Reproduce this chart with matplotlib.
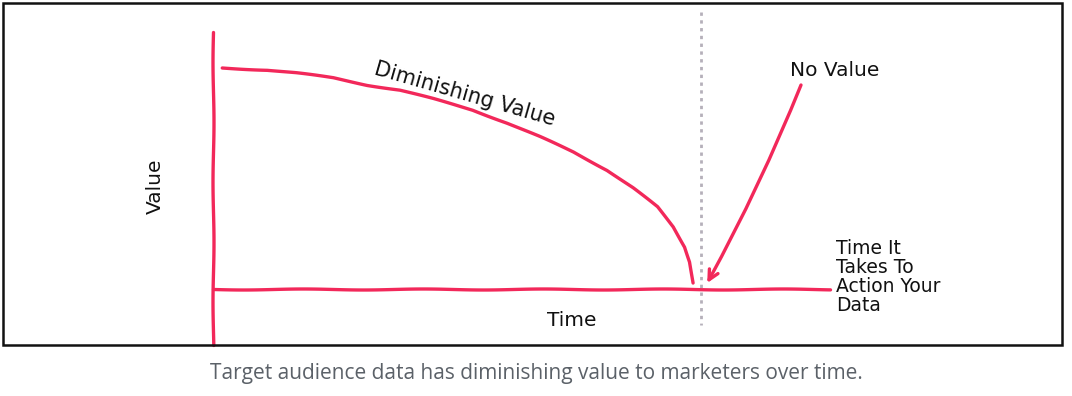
import matplotlib
matplotlib.use("Agg")
import matplotlib.pyplot as plt
from matplotlib.patches import Rectangle

# ---- data (time units, value units) ----
curve_time = [0.15, 0.88, 1.36, 1.95, 2.50, 3.03, 3.57, 4.21, 4.77, 5.30,
              5.84, 6.39, 6.81, 7.20, 7.46, 7.65, 7.73, 7.78]
curve_value = [10.00, 9.91, 9.77, 9.55, 9.23, 9.00, 8.60, 8.10, 7.51, 6.88,
               6.20, 5.38, 4.57, 3.71, 2.81, 1.90, 1.22, 0.27]
action_time = 7.91           # dotted line: time it takes to action your data
arrow_start = (9.53, 9.23)
arrow_end = (8.01, 0.27)

labels = {
    "curve": "Diminishing Value",
    "arrow": "No Value",
    "x": "Time",
    "y": "Value",
    "action": "Time It\nTakes To\nAction Your\nData",
}
caption = "Target audience data has diminishing value to marketers over time."

RED = "#f2285a"
W, H = 1072, 396
fig = plt.figure(figsize=(W / 100, H / 100), dpi=100)
fig.patch.set_facecolor("white")

# axes covering full figure; origin of chart at pixel (213, 289)
px_t = 61.7
px_v = 22.1
ax = fig.add_axes([0, 0, 1, 1])
ax.set_xlim(-213 / px_t, (W - 213) / px_t)
ax.set_ylim(-(H - 289) / px_v, 289 / px_v)
ax.axis("off")

sketch = (0.5, 120, 1)

# outer frame
fig.patches.append(Rectangle((3 / W, (H - 345) / H), (1062 - 3) / W, (345 - 3) / H,
                             transform=fig.transFigure, fill=False,
                             edgecolor="#111111", linewidth=1.8))

# axes lines
l1, = ax.plot([0, 0], [11.63, -2.53], color=RED, lw=2.4, solid_capstyle="round")
l2, = ax.plot([0, 10.0], [0, 0], color=RED, lw=2.4, solid_capstyle="round")
l3, = ax.plot(curve_time, curve_value, color=RED, lw=2.4, solid_capstyle="round",
              solid_joinstyle="round")
for l in (l1, l2, l3):
    l.set_sketch_params(*sketch)

# dotted line
ax.plot([action_time, action_time], [12.53, -1.63], color="#b5b0ba", lw=2.0,
        linestyle=(0, (1.2, 1.6)))

# arrow
ann = ax.annotate("", xy=arrow_end, xytext=arrow_start,
                  arrowprops=dict(arrowstyle="->,head_length=0.7,head_width=0.35",
                                  connectionstyle="arc3,rad=-0.03",
                                  color=RED, lw=2.4, shrinkA=0, shrinkB=0))

font = "DejaVu Sans"
ax.text((465 - 213) / px_t, (289 - 94) / px_v, labels["curve"], rotation=-16,
        ha="center", va="center", fontsize=15, family=font, color="#111111")
ax.text((835 - 213) / px_t, (289 - 70) / px_v, labels["arrow"],
        ha="center", va="center", fontsize=14.5, family=font, color="#111111")
ax.text((572 - 213) / px_t, (289 - 320) / px_v, labels["x"],
        ha="center", va="center", fontsize=14.5, family=font, color="#111111")
ax.text((155 - 213) / px_t, (289 - 186) / px_v, labels["y"], rotation=90,
        ha="center", va="center", fontsize=14.5, family=font, color="#111111")
ax.text((836 - 213) / px_t, (289 - 277) / px_v, labels["action"],
        ha="left", va="center", fontsize=13.5, family=font, color="#111111",
        linespacing=1.0)

fig.text(0.5, 1 - 373 / H, caption, ha="center", va="center", fontsize=15,
         family="Open Sans", color="#5b6168")

fig.savefig("out.png", dpi=100, facecolor="white")
